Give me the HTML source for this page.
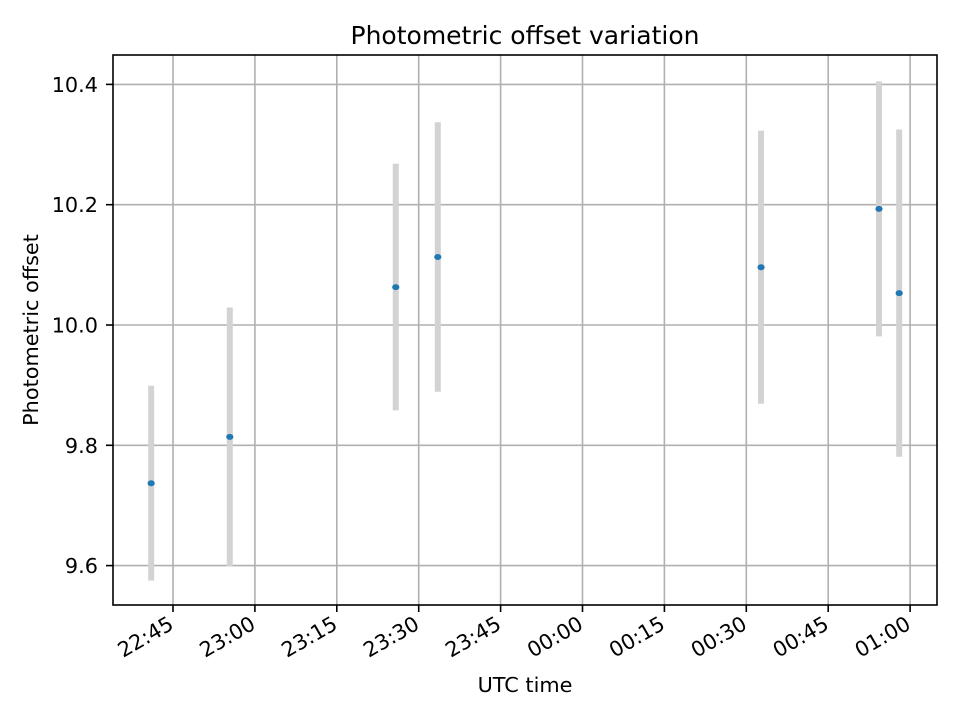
<!DOCTYPE html>
<html><head><meta charset="utf-8"><style>body{margin:0;background:#fff}svg{display:block;font-family:"DejaVu Sans","Liberation Sans",sans-serif}</style></head>
<body>
<svg id="chart" width="960" height="720" xmlns="http://www.w3.org/2000/svg">
<rect width="960" height="720" fill="#fff"/>
<text x="525" y="44" text-anchor="middle" font-size="25">Photometric offset variation</text>
<g id="grid"></g><g id="marks"></g><g id="axes"></g>
<text x="525" y="692" text-anchor="middle" font-size="20.8">UTC time</text>
<text transform="translate(38,330) rotate(-90)" text-anchor="middle" font-size="20.8">Photometric offset</text>
</svg>
<script>
// minutes since 22:45
const times=[-4,10.4,40.8,48.5,107.7,129.3,133];
const values=[9.737,9.814,10.063,10.113,10.096,10.193,10.053];
const errors=[0.162,0.215,0.205,0.224,0.227,0.212,0.272];
const xTicks=[0,15,30,45,60,75,90,105,120,135];
const xTickLabels=["22:45","23:00","23:15","23:30","23:45","00:00","00:15","00:30","00:45","01:00"];
const yTicks=[9.6,9.8,10.0,10.2,10.4];
const yTickLabels=["9.6","9.8","10.0","10.2","10.4"];
const L=113,R=937,T=55,B=605;
const xs=m=>173+m*5.46;
const ys=v=>325-(v-10)*601.5;
const NS="http://www.w3.org/2000/svg";
function mk(tag,attrs,parent){const e=document.createElementNS(NS,tag);for(const k in attrs)e.setAttribute(k,attrs[k]);document.getElementById(parent).appendChild(e);return e;}
xTicks.forEach((t,i)=>{const x=xs(t);
const g=mk('line',{x1:x,x2:x,y1:T,y2:B,stroke:'#b0b0b0','stroke-width':1.6},'grid');

const k=mk('line',{x1:x,x2:x,y1:B,y2:B+7,stroke:'#000','stroke-width':1.6},'axes');

const l=mk('text',{transform:`translate(${x+2},${628}) rotate(-30)`,'text-anchor':'end','font-size':20.8},'axes');
l.textContent=xTickLabels[i];
});
yTicks.forEach((t,i)=>{const y=ys(t);
const g=mk('line',{x1:L,x2:R,y1:y,y2:y,stroke:'#b0b0b0','stroke-width':1.6},'grid');

const k=mk('line',{x1:L-7,x2:L,y1:y,y2:y,stroke:'#000','stroke-width':1.6},'axes');

const l=mk('text',{x:L-15,y:y+7.5,'text-anchor':'end','font-size':20.8},'axes');
l.textContent=yTickLabels[i];
});
times.forEach((t,i)=>{const x=xs(t);
const e=mk('line',{x1:x,x2:x,y1:ys(values[i]+errors[i]),y2:ys(values[i]-errors[i]),stroke:'#d3d3d3','stroke-width':6},'marks');
});
times.forEach((t,i)=>{
const p=mk('ellipse',{cx:xs(t),cy:ys(values[i]),rx:3.6,ry:3,fill:'#1f77b4'},'marks');
});
const f=mk('rect',{x:L,y:T,width:R-L,height:B-T,fill:'none',stroke:'#000','stroke-width':1.6},'axes');

</script>
</body></html>
